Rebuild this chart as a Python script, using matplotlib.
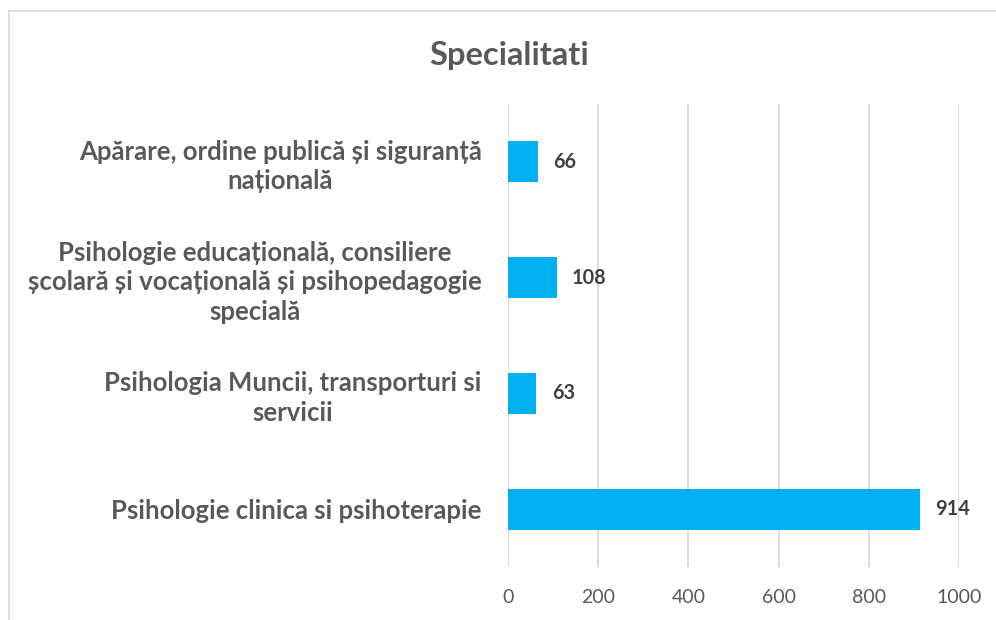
import matplotlib.pyplot as plt
from matplotlib.patches import Rectangle

categories = [
    "Apărare, ordine publică și siguranță\nnațională",
    "Psihologie educațională, consiliere\nșcolară și vocațională și psihopedagogie\nspecială",
    "Psihologia Muncii, transporturi si\nservicii",
    "Psihologie clinica si psihoterapie",
]
values = [66, 108, 63, 914]
xticks = [0, 200, 400, 600, 800, 1000]

plt.rcParams['font.family'] = ['Lato', 'DejaVu Sans']

fig = plt.figure(figsize=(9.96, 6.2), dpi=100)
ax = fig.add_axes([508 / 996, 53 / 620, 451 / 996, 463 / 620])

pos = list(range(len(categories)))
ax.barh(pos, values, height=0.355, color='#00B0F0', zorder=3)
ax.set_ylim(len(categories) - 0.5, -0.5)
ax.set_xlim(0, 1000)

for p, v in zip(pos, values):
    ax.annotate(str(v), (v, p), xytext=(11, 0), textcoords='offset points',
                va='center', ha='left', fontsize=14.3, fontweight='bold',
                color='#404040')

ax.set_xticks(xticks)
ax.set_xticklabels([str(t) for t in xticks], fontsize=14, color='#595959')
ax.set_yticks(pos)
ax.set_yticklabels(categories, fontsize=18.5, fontweight='bold', color='#595959',
                   multialignment='center', linespacing=1.28)
ax.tick_params(axis='both', length=0)
ax.tick_params(axis='x', pad=16)
ax.tick_params(axis='y', pad=19)
ax.grid(axis='x', color='#D9D9D9', linewidth=1.3, zorder=0)
for s in ax.spines.values():
    s.set_visible(False)

fig.text(509 / 996, 1 - 55 / 620, "Specialitati", ha='center', va='center',
         fontsize=23.5, fontweight='bold', color='#595959')

fig.patches.append(Rectangle((9 / 996, -0.1), 1.1, 1.1 - 11 / 620,
                             transform=fig.transFigure, fill=False,
                             edgecolor='#D9D9D9', linewidth=1.3))

fig.savefig('out.png', dpi=100)
